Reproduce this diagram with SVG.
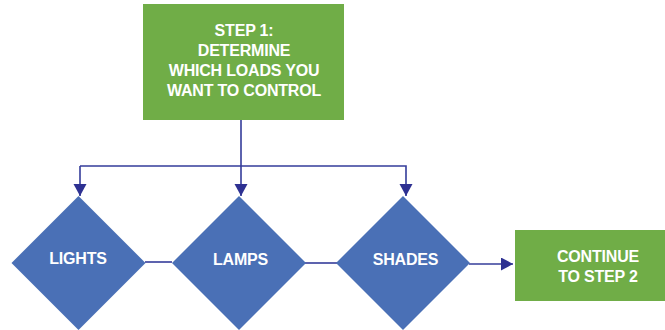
<svg xmlns="http://www.w3.org/2000/svg" width="665" height="330" viewBox="0 0 665 330">
<defs>
<style>
.box{fill:#70AD47}
.dia{fill:#4A70B6}
.ln{stroke:#343C9A;stroke-width:1.6;fill:none}
.t{font-family:"Liberation Sans",Arial,sans-serif;font-weight:bold;font-size:16px;fill:#ffffff;text-anchor:middle;letter-spacing:-0.2px}
</style>
<marker id="ah" markerUnits="userSpaceOnUse" markerWidth="14" markerHeight="14" refX="12" refY="6.5" orient="auto">
<path d="M0,0 L12,6.5 L0,13 Z" fill="#2E3192"/>
</marker>
</defs>
<rect width="665" height="330" fill="#ffffff"/>
<g id="connectors">
<path class="ln" d="M241,120 V196" marker-end="url(#ah)"/>
<path class="ln" d="M80,166 H406 V196" marker-end="url(#ah)"/>
<path class="ln" d="M80,166 V196" marker-end="url(#ah)"/>
<path class="ln" d="M145,262 H172"/>
<path class="ln" d="M305,263 H337"/>
<path class="ln" d="M469,264 H513" marker-end="url(#ah)"/>
</g>
<g id="step1">
<rect class="box" x="143" y="4" width="201" height="116"/>
<text class="t" x="244" y="36">STEP 1:</text>
<text class="t" x="244" y="56">DETERMINE</text>
<text class="t" x="244" y="76">WHICH LOADS YOU</text>
<text class="t" x="244" y="96">WANT TO CONTROL</text>
</g>
<g id="lights">
<path class="dia" d="M78.5,196 L145.5,263 L78.5,330 L11.5,263 Z"/>
<text class="t" x="78" y="264">LIGHTS</text>
</g>
<g id="lamps">
<path class="dia" d="M239,196 L306,263 L239,330 L172,263 Z"/>
<text class="t" x="240.5" y="265">LAMPS</text>
</g>
<g id="shades">
<path class="dia" d="M403,196 L470,263 L403,330 L336,263 Z"/>
<text class="t" x="405.5" y="265">SHADES</text>
</g>
<g id="step2">
<rect class="box" x="515" y="230" width="150" height="71"/>
<text class="t" x="598" y="262">CONTINUE</text>
<text class="t" x="598" y="282">TO STEP 2</text>
</g>
</svg>
